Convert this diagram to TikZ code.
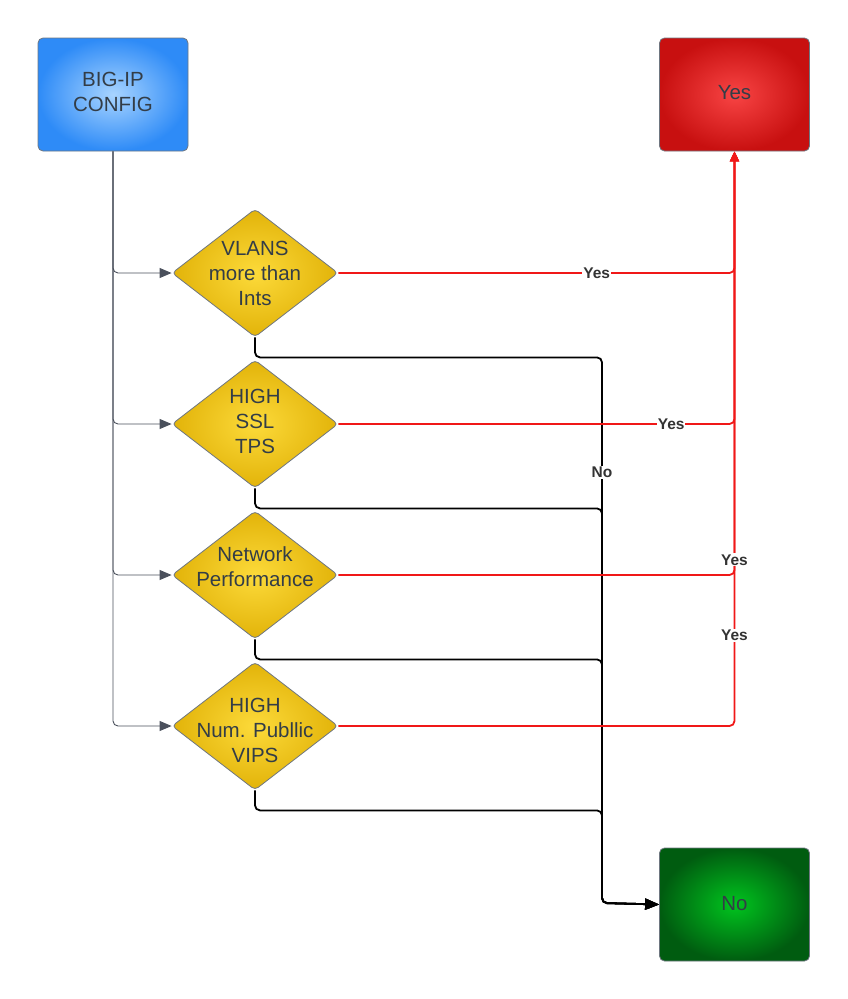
\documentclass[tikz,border=0pt]{standalone}
\usepackage{fontspec}
\setmainfont{Liberation Sans}
\usetikzlibrary{shapes.geometric,arrows.meta}
\definecolor{txt}{HTML}{333D47}
\definecolor{lbl}{HTML}{333333}
\definecolor{bord}{HTML}{6E7680}
\definecolor{grayline}{HTML}{4A505C}
\definecolor{redline}{HTML}{F01818}
\definecolor{blueIn}{HTML}{A8D4FF}
\definecolor{blueOut}{HTML}{2E8BF7}
\definecolor{redIn}{HTML}{F84444}
\definecolor{redOut}{HTML}{C81010}
\definecolor{greenIn}{HTML}{00C41E}
\definecolor{greenOut}{HTML}{005C10}
\definecolor{yelIn}{HTML}{FCDA3A}
\definecolor{yelOut}{HTML}{E2B309}
\tikzset{
  box/.style={rectangle, rounded corners=5pt, draw=bord, line width=0.8pt,
    minimum width=150pt, minimum height=113pt, inner sep=0pt,
    font=\fontsize{20.5}{25}\selectfont, text=txt, align=center},
  dia/.style={diamond, rounded corners=4pt, draw=bord, line width=0.8pt,
    minimum width=166pt, minimum height=128pt, inner sep=0pt,
    inner color=yelIn, outer color=yelOut},
  diatext/.style={font=\fontsize{20.5}{25}\selectfont, text=txt, align=center, inner sep=0pt},
  feed/.style={draw=grayline, line width=0.9pt, rounded corners=5pt,
    -{Triangle[length=12pt,width=10pt]}},
  yesline/.style={draw=redline, line width=1.8pt, rounded corners=5pt,
    -{Triangle[length=10pt,width=9pt]}},
  noline/.style={draw=black, line width=1.8pt, rounded corners=5pt,
    -{Triangle[length=14pt,width=11pt]}},
  lab/.style={font=\bfseries\fontsize{15.5}{17}\selectfont, text=lbl, fill=white, inner sep=1pt}
}
\begin{document}
\begin{tikzpicture}[x=1pt,y=-1pt]
\useasboundingbox (0,0) rectangle (848,999);
\node[box, inner color=blueIn, outer color=blueOut, text height=14pt] (big) at (113,94.5) {};
\node[diatext] (bigt) at (113,91.5) {BIG-IP\\CONFIG};
\node[box, inner color=redIn, outer color=redOut] (yes) at (734.5,94.5) {};
\node[diatext] (yest) at (734.5,92.5) {Yes};
\node[box, inner color=greenIn, outer color=greenOut] (no) at (734.5,904.5) {};
\node[diatext] (not) at (734.5,904) {No};

\node[dia] (d1) at (255,273) {};
\node[dia] (d2) at (255,424) {};
\node[dia] (d3) at (255,575) {};
\node[dia] (d4) at (255,726) {};
\node[diatext] (t1) at (255,273) {VLANS\\more than\\Ints};
\node[diatext] (t2) at (255,421) {HIGH\\SSL\\TPS};
\node[diatext] (t3) at (255,566.5) {Network\\Performance};
\node[diatext] (t4) at (255,730) {HIGH\\Num. Publlic\\VIPS};

\coordinate (bus) at (602,903);

% feeds
\draw[feed] (big.south) |- (d1.west);
\draw[feed] (big.south) |- (d2.west);
\draw[feed] (big.south) |- (d3.west);
\draw[feed] (big.south) |- (d4.west);

% no lines
\draw[noline] (d1.south) -- ++(0,20) -| (bus) -- (no.west);
\draw[noline] (d2.south) -- ++(0,20) -| (bus) -- (no.west);
\draw[noline] (d3.south) -- ++(0,20) -| (bus) -- (no.west);
\draw[noline] (d4.south) -- ++(0,20) -| (bus) -- (no.west);

% yes lines
\draw[yesline] (d1.east) -| (yes.south);
\draw[yesline] (d2.east) -| (yes.south);
\draw[yesline] (d3.east) -| (yes.south);
\draw[yesline] (d4.east) -| (yes.south);

% labels
\path (d1.east) -| node[lab, pos=0.326] {Yes} (yes.south);
\path (d2.east) -| node[lab, pos=0.42] {Yes} (yes.south);
\path (d3.east) -| node[lab, pos=0.518] {Yes} (yes.south);
\path (d4.east) -| node[lab, pos=0.579] {Yes} (yes.south);
\path (bus |- d1.south) -- node[lab, pos=0.2385] {No} (bus);
\end{tikzpicture}
\end{document}
